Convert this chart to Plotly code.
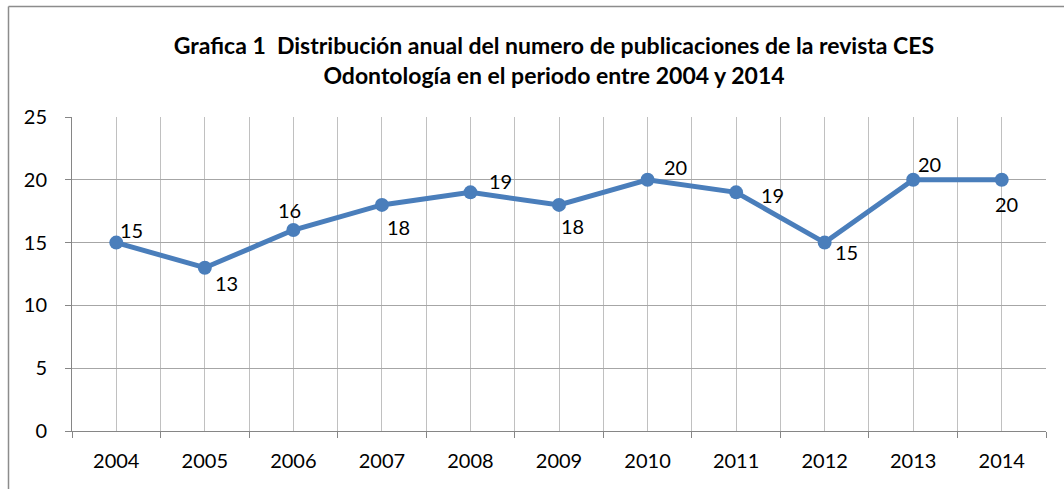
import plotly.graph_objects as go

years = [2004, 2005, 2006, 2007, 2008, 2009, 2010, 2011, 2012, 2013, 2014]
publicaciones = [15, 13, 16, 18, 19, 18, 20, 19, 15, 20, 20]
# label offsets from the point (pixels, right / down)
label_dx = [15, 22, -4, 17, 30, 13, 28, 36, 22, 16, 5]
label_dy = [-14, 14, -21, 21, -12, 20, -14, 2, 8, -17, 23]
y_ticks = [0, 5, 10, 15, 20, 25]
title_lines = ["Grafica 1  Distribución anual del numero de publicaciones de la revista CES",
               "Odontología en el periodo entre 2004 y 2014"]

W, H = 1064, 489
L, R, T, B = 72, 18, 117, 58
pw, ph = W - L - R, H - T - B

def px_to_paper_x(px):
    return (px - L) / pw

def px_to_paper_y(py):
    return (H - B - py) / ph

font_family = "Lato, Carlito, Calibri, sans-serif"

fig = go.Figure()
fig.add_trace(go.Scatter(
    x=years, y=publicaciones, mode="lines+markers",
    line=dict(color="#4A7EBB", width=5),
    marker=dict(color="#4A7EBB", size=14),
    cliponaxis=False, showlegend=False,
))

for yr, v, dx, dy in zip(years, publicaciones, label_dx, label_dy):
    fig.add_annotation(x=yr, y=v, text=str(v), showarrow=False,
                       xanchor="center", yanchor="middle",
                       xshift=dx, yshift=-dy - 1,
                       font=dict(family=font_family, size=20, color="#000000"))

half_vals = [y - 0.5 for y in years] + [years[-1] + 0.5]

fig.update_layout(
    width=W, height=H,
    margin=dict(l=L, r=R, t=T, b=B),
    paper_bgcolor="white", plot_bgcolor="white",
    font=dict(family=font_family, size=20, color="#000000"),
    title=dict(text="<b>" + "<br>".join(title_lines) + "</b>",
               x=px_to_paper_x(554), xref="paper", xanchor="center",
               y=1 - 54 / H, yanchor="middle",
               font=dict(family=font_family, size=23, color="#000000")),
    xaxis=dict(range=[years[0] - 0.5, years[-1] + 0.5], tickvals=years,
               ticktext=[str(y) for y in years], showgrid=True, gridcolor="#C0C0C0",
               gridwidth=1, ticks="", showline=True, linecolor="#868686", linewidth=1,
               zeroline=False, ticklabelstandoff=12,
               minor=dict(tickvals=half_vals, showgrid=True, gridcolor="#C0C0C0",
                          ticks="outside", ticklen=6, tickcolor="#868686")),
    yaxis=dict(range=[0, 25], tickvals=y_ticks, showgrid=True, gridcolor="#A6A6A6",
               gridwidth=1, ticks="outside", ticklen=6, tickcolor="#868686",
               showline=True, linecolor="#868686", linewidth=1, zeroline=False,
               ticklabelstandoff=14),
)

# chart border (left and top edges visible)
x0 = px_to_paper_x(8.5)
y0 = px_to_paper_y(6.5)
fig.add_shape(type="line", xref="paper", yref="paper", x0=x0, x1=x0,
              y0=y0, y1=px_to_paper_y(495), line=dict(color="#8C8C8C", width=1.5))
fig.add_shape(type="line", xref="paper", yref="paper", x0=x0, x1=px_to_paper_x(1070),
              y0=y0, y1=y0, line=dict(color="#8C8C8C", width=1.5))

fig.write_html("out.html", config={"displayModeBar": False},
               post_script="document.body.style.margin='0';document.body.style.padding='0';")
